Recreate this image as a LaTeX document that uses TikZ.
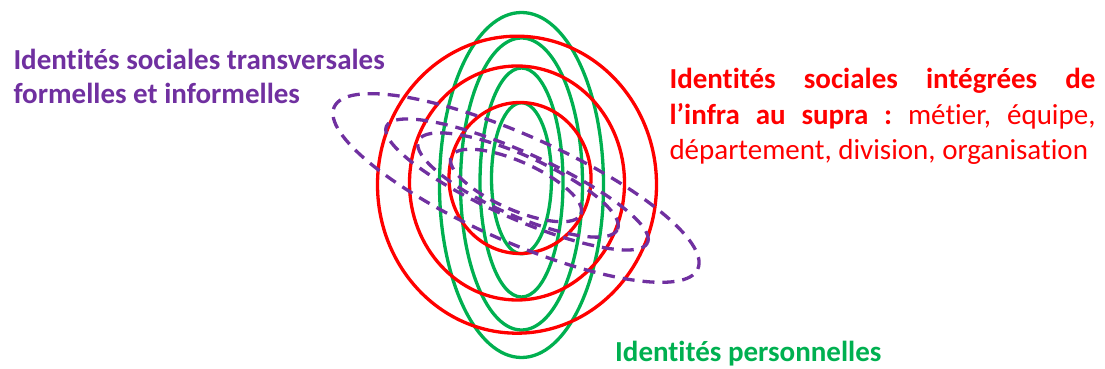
\documentclass[tikz,border=0pt]{standalone}
\usepackage{fontspec}
\setmainfont{Carlito}[Ligatures=NoCommon]
\usepackage{tikz}
\usetikzlibrary{positioning}
\definecolor{idpurple}{HTML}{7030A0}
\definecolor{idred}{HTML}{FF0000}
\definecolor{idgreen}{HTML}{00B050}
\frenchspacing

\begin{document}
\begin{tikzpicture}[x=1pt,y=1pt,
  redring/.style={draw=idred,line width=3.3pt},
  greenring/.style={draw=idgreen,line width=3.3pt},
  purplering/.style={draw=idpurple,line width=3.3pt,dash pattern=on 12pt off 8pt},
  label/.style={inner sep=0pt,anchor=base west,font=\fontsize{29}{34}\selectfont}]

    \useasboundingbox (0,0) rectangle (1105,369);

    % personnelles
    \draw[greenring] (521.5,184) ellipse [x radius=82, y radius=172.5];
    \draw[greenring] (521.5,185) ellipse [x radius=61, y radius=146];
    \draw[greenring] (521.5,186.5) ellipse [x radius=41.5, y radius=114.5];
    \draw[greenring] (521.5,190.7) ellipse [x radius=30, y radius=75.5];

    % infra au supra
    \draw[redring] (517,184.3) ellipse [x radius=139.5, y radius=148.5];
    \draw[redring] (517,186) ellipse [x radius=107.5, y radius=117];
    \draw[redring] (520,191) ellipse [x radius=71, y radius=75.5];

    % transversales
    \draw[purplering,rotate around={-24:(516,181)}] (516,181) ellipse [x radius=199, y radius=53];
    \draw[purplering,rotate around={-24:(517,184.5)}] (517,184.5) ellipse [x radius=143, y radius=33];
    \draw[purplering,rotate around={-24:(518,184)}] (518,184) ellipse [x radius=109, y radius=30];
    \draw[purplering,rotate around={-24:(516,183.5)}] (516,183.5) ellipse [x radius=71, y radius=24];

    \node[label,text=idpurple,align=left] (transv) at (13.3,265)
        {\textbf{Identités sociales transversales}\\\textbf{formelles et informelles}};
    \node[label,text=idred,text width=426pt,align=justify,
          font=\fontsize{29}{35.5}\selectfont] (integr) at (669.3,280)
        {\textbf{Identités sociales intégrées de}\linebreak
         \textbf{l’infra au supra :} métier, équipe,\linebreak
         département, division, organisation};
    \node[label,text=idgreen] (perso) at (615,7) {\textbf{Identités personnelles}};
\end{tikzpicture}
\end{document}
